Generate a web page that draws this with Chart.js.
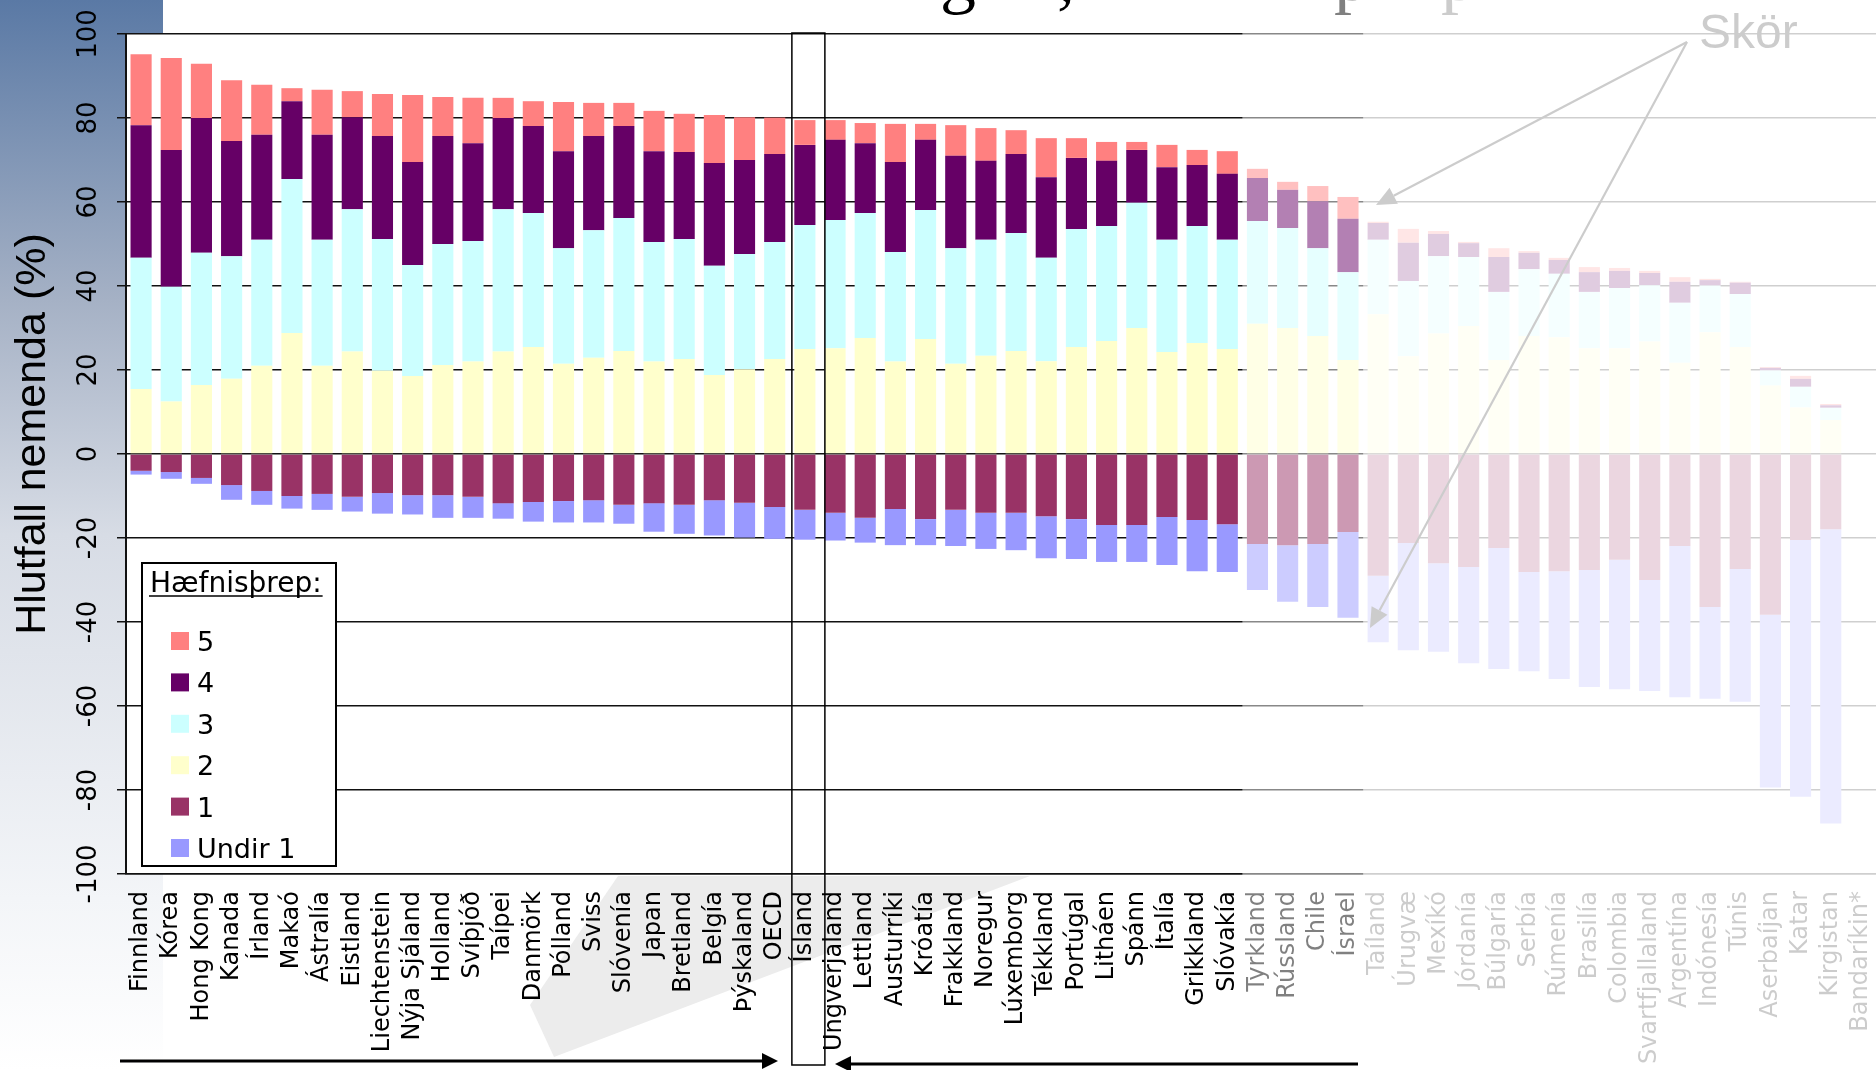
<!DOCTYPE html>
<html>
<head>
<meta charset="utf-8">
<title>Hæfnisþrep</title>
<script src="https://cdn.jsdelivr.net/npm/chart.js@4.4.0/dist/chart.umd.min.js"></script>
<style>
  html, body { margin: 0; padding: 0; background: #fff; overflow: hidden; }
  #wrap { width: 1876px; height: 1070px; position: relative; }
</style>
</head>
<body>
<div id="wrap"><canvas id="chart" width="1876" height="1070"></canvas></div>
<script>
// Countries, ordered as in the chart
const categories = ['Finnland', 'Kórea', 'Hong Kong', 'Kanada', 'Írland', 'Makaó', 'Ástralía', 'Eistland',
    'Liechtenstein', 'Nýja Sjáland', 'Holland', 'Svíþjóð', 'Taípei', 'Danmörk', 'Pólland', 'Sviss',
    'Slóvenía', 'Japan', 'Bretland', 'Belgía', 'Þýskaland', 'OECD', 'Ísland', 'Ungverjaland', 'Lettland',
    'Austurríki', 'Króatía', 'Frakkland', 'Noregur', 'Lúxemborg', 'Tékkland', 'Portúgal', 'Litháen',
    'Spánn', 'Ítalía', 'Grikkland', 'Slóvakía', 'Tyrkland', 'Rússland', 'Chile', 'Ísrael', 'Taíland',
    'Úrugvæ', 'Mexíkó', 'Jórdanía', 'Búlgaría', 'Serbía', 'Rúmenía', 'Brasilía', 'Colombia',
    'Svartfjallaland', 'Argentína', 'Indónesía', 'Túnis', 'Aserbaíjan', 'Katar', 'Kirgistan', 'Bandaríkin*'];

// Share of students (%) on each level; levels 1 and below 1 are shown below zero
const level2 = [15.5, 12.5, 16.4, 17.9, 21.0, 28.8, 21.0, 24.4, 19.8, 18.6, 21.2, 22.0, 24.4, 25.5, 21.5, 22.9,
    24.5, 22.0, 22.6, 18.8, 20.2, 22.6, 25.0, 25.2, 27.6, 22.0, 27.4, 21.5, 23.4, 24.5, 22.1, 25.5, 26.9,
    30.0, 24.3, 26.4, 25.0, 31.0, 30.0, 28.1, 22.4, 33.3, 23.3, 28.7, 30.5, 22.4, 28.1, 27.8, 25.2, 25.2,
    26.8, 21.7, 29.0, 25.5, 16.3, 11.1, 8.1, null];
const level3 = [31.2, 27.3, 31.5, 29.2, 30.0, 36.7, 30.0, 33.9, 31.4, 26.4, 28.8, 28.7, 33.9, 31.9, 27.5, 30.4,
    31.7, 28.5, 28.6, 26.0, 27.4, 27.9, 29.5, 30.5, 29.8, 26.1, 30.7, 27.5, 27.6, 28.1, 24.6, 28.1, 27.4,
    29.8, 26.7, 27.9, 26.0, 24.5, 23.8, 20.9, 20.9, 17.7, 17.9, 18.4, 16.4, 16.2, 15.9, 15.1, 13.4, 14.3,
    13.4, 14.3, 11.1, 12.6, 3.6, 4.9, 2.9, null];
const level4 = [31.6, 32.6, 32.1, 27.4, 25.0, 18.5, 25.0, 21.9, 24.5, 24.5, 25.7, 23.3, 21.7, 20.7, 23.1, 22.4,
    21.9, 21.6, 20.7, 24.5, 22.4, 20.9, 19.1, 19.1, 16.6, 21.4, 16.7, 22.0, 18.8, 18.8, 19.2, 16.9, 15.5,
    12.6, 17.3, 14.5, 15.7, 10.2, 9.1, 11.2, 12.7, 4.0, 9.1, 5.3, 3.3, 8.3, 3.9, 3.3, 4.7, 4.1,
    2.9, 5.0, 1.3, 2.7, 0.6, 1.9, 0.6, null];
const level5 = [16.9, 21.9, 12.9, 14.5, 11.9, 3.1, 10.7, 6.2, 10.0, 16.0, 9.3, 10.8, 4.8, 5.9, 11.7, 7.9,
    5.5, 9.6, 9.1, 11.4, 10.2, 8.7, 5.9, 4.7, 4.8, 9.1, 3.8, 7.3, 7.8, 5.7, 9.3, 4.7, 4.5,
    1.9, 5.3, 3.6, 5.4, 2.2, 1.9, 3.6, 5.2, 0.3, 3.3, 0.7, 0.3, 2.1, 0.4, 0.5, 1.2, 0.7,
    0.5, 1.1, 0.3, 0.2, 0.2, 0.7, 0.3, null];
const level1 = [-4.0, -4.3, -5.7, -7.4, -8.8, -10.0, -9.5, -10.2, -9.3, -9.8, -9.8, -10.2, -11.7, -11.4, -11.2, -11.0,
    -12.1, -11.7, -12.1, -11.0, -11.6, -12.6, -13.3, -14.0, -15.2, -13.1, -15.5, -13.3, -14.0, -14.0, -14.8, -15.5, -16.9,
    -16.9, -15.0, -15.7, -16.7, -21.4, -21.7, -21.4, -18.6, -29.0, -21.2, -26.0, -26.9, -22.4, -28.1, -27.9, -27.6, -25.2,
    -30.0, -21.9, -36.4, -27.4, -38.3, -20.5, -17.9, null];
const under1 = [-0.9, -1.6, -1.4, -3.5, -3.3, -3.0, -3.8, -3.5, -4.9, -4.6, -5.4, -5.0, -3.7, -4.7, -5.1, -5.3,
    -4.5, -6.8, -6.9, -8.4, -8.3, -7.6, -7.1, -6.6, -5.9, -8.6, -6.2, -8.6, -8.6, -8.9, -10.0, -9.5, -8.8,
    -8.8, -11.4, -12.2, -11.4, -11.0, -13.5, -15.0, -20.4, -15.8, -25.5, -21.1, -22.9, -28.8, -23.6, -25.7, -27.9, -30.8,
    -26.4, -36.0, -21.9, -31.6, -41.1, -61.1, -70.1, null];

const yTickValues = [100, 80, 60, 40, 20, 0, -20, -40, -60, -80, -100];
const yTitle = 'Hlutfall nemenda (%)';
const legendTitle = 'Hæfnisþrep:';
const legendLabels = ['5', '4', '3', '2', '1', 'Undir 1'];
const noteText = 'Skör';

const colors = {
    l5: '#ff8080',
    l4: '#660066',
    l3: '#ccffff',
    l2: '#ffffcc',
    l1: '#993366',
    u1: '#9999ff'
};
const legendColors = [colors.l5, colors.l4, colors.l3, colors.l2, colors.l1, colors.u1];

function arrow(ctx, x1, y1, x2, y2, len, half) {
    const a = Math.atan2(y2 - y1, x2 - x1);
    const bx = x2 - len * Math.cos(a), by = y2 - len * Math.sin(a);
    ctx.beginPath();
    ctx.moveTo(x1, y1);
    ctx.lineTo(bx, by);
    ctx.stroke();
    ctx.beginPath();
    ctx.moveTo(x2, y2);
    ctx.lineTo(bx + half * Math.sin(a), by - half * Math.cos(a));
    ctx.lineTo(bx - half * Math.sin(a), by + half * Math.cos(a));
    ctx.closePath();
    ctx.fill();
}

const decorPlugin = {
    id: 'decor',
    beforeDraw(chart) {
        const ctx = chart.ctx, area = chart.chartArea;
        ctx.save();
        ctx.fillStyle = '#fff';
        ctx.fillRect(0, 0, chart.width, chart.height);
        // blue strip on the left
        const grad = ctx.createLinearGradient(0, 0, 0, chart.height);
        grad.addColorStop(0, '#5a79a5');
        grad.addColorStop(0.28, '#a5b1c5');
        grad.addColorStop(0.5, '#d7dce5');
        grad.addColorStop(0.84, '#f3f5f8');
        grad.addColorStop(1, '#ffffff');
        ctx.fillStyle = grad;
        ctx.fillRect(0, 0, 163, chart.height);
        // faint shape behind the country names
        ctx.fillStyle = '#ececec';
        ctx.beginPath();
        ctx.moveTo(618, 876);
        ctx.lineTo(1030, 876);
        ctx.lineTo(554, 1057);
        ctx.lineTo(530, 1005);
        ctx.closePath();
        ctx.fill();
        ctx.fillStyle = '#fff';
        ctx.fillRect(area.left, area.top, area.right - area.left, area.bottom - area.top);
        ctx.restore();
    },
    afterDraw(chart) {
        const ctx = chart.ctx, xs = chart.scales.x, ys = chart.scales.y;
        ctx.save();

        // y tick labels, turned like the axis title
        ctx.fillStyle = '#000';
        ctx.font = '26px "DejaVu Sans"';
        ctx.textAlign = 'center';
        ctx.textBaseline = 'alphabetic';
        yTickValues.forEach(v => {
            ctx.save();
            ctx.translate(96, ys.getPixelForValue(v));
            ctx.rotate(-Math.PI / 2);
            ctx.fillText(String(v), 0, 0);
            ctx.restore();
        });

        ctx.save();
        ctx.translate(45, 434);
        ctx.rotate(-Math.PI / 2);
        ctx.font = '43px "Liberation Sans"';
        ctx.fillText(yTitle, 0, 0);
        ctx.restore();

        // legend box
        ctx.fillStyle = '#fff';
        ctx.fillRect(142, 563, 194, 303);
        ctx.strokeStyle = '#000';
        ctx.lineWidth = 2;
        ctx.strokeRect(142, 563, 194, 303);
        ctx.fillStyle = '#000';
        ctx.textAlign = 'left';
        ctx.font = '28px "DejaVu Sans"';
        ctx.fillText(legendTitle, 150, 592);
        const tw = ctx.measureText(legendTitle).width;
        ctx.lineWidth = 1.5;
        ctx.beginPath();
        ctx.moveTo(149, 596);
        ctx.lineTo(151 + tw, 596);
        ctx.stroke();
        ctx.font = '27px "DejaVu Sans"';
        legendLabels.forEach((lab, i) => {
            const cy = 641 + i * 41.4;
            ctx.fillStyle = legendColors[i];
            ctx.fillRect(171, cy - 9, 18, 18);
            ctx.fillStyle = '#000';
            ctx.fillText(lab, 197, cy + 10);
        });

        // box round Iceland
        const ci = xs.getPixelForValue(22);
        ctx.strokeStyle = '#000';
        ctx.lineWidth = 1.5;
        ctx.strokeRect(ci - 13, 33, 33, 1032);

        // pieces of the title that hang below the top edge
        ctx.font = '72px "Liberation Serif"';
        ctx.textAlign = 'center';
        ctx.fillText('g', 958, 0);
        ctx.fillText(',', 1066, 0);
        ctx.textAlign = 'left';
        ctx.fillText('þ', 1334, 0);
        ctx.fillText('p', 1441, 0);

        // "Skör" note with its two arrows
        ctx.font = '48px "Liberation Sans"';
        ctx.fillText(noteText, 1699, 48);
        ctx.lineWidth = 2.2;
        arrow(ctx, 1687, 42, 1376, 205, 20, 9);
        arrow(ctx, 1687, 42, 1370, 628, 20, 9);

        // fade the countries outside the main group
        const b1 = (xs.getPixelForValue(36) + xs.getPixelForValue(37)) / 2;
        const b2 = (xs.getPixelForValue(40) + xs.getPixelForValue(41)) / 2;
        ctx.fillStyle = 'rgba(255,255,255,0.5)';
        ctx.fillRect(b1, 0, b2 - b1, chart.height);
        ctx.fillStyle = 'rgba(255,255,255,0.8)';
        ctx.fillRect(b2, 0, chart.width - b2, chart.height);

        // arrows under the names
        ctx.fillStyle = '#000';
        ctx.strokeStyle = '#000';
        ctx.lineWidth = 3;
        arrow(ctx, 120, 1061, 778, 1061, 16, 8);
        arrow(ctx, 1358, 1064, 835, 1064, 16, 8);

        ctx.restore();
    }
};

function makeSet(label, data, color) {
    return {
        label: label,
        data: data,
        backgroundColor: color,
        borderWidth: 0,
        barPercentage: 0.7,
        categoryPercentage: 1.0
    };
}

const chart = new Chart(document.getElementById('chart'), {
    type: 'bar',
    data: {
        labels: categories,
        datasets: [
            makeSet('2', level2, colors.l2),
            makeSet('3', level3, colors.l3),
            makeSet('4', level4, colors.l4),
            makeSet('5', level5, colors.l5),
            makeSet('1', level1, colors.l1),
            makeSet('Undir 1', under1, colors.u1)
        ]
    },
    options: {
        responsive: false,
        animation: false,
        devicePixelRatio: 1,
        layout: { padding: { top: 34, left: 0, right: 0, bottom: 0 } },
        plugins: {
            legend: { display: false },
            tooltip: { enabled: false }
        },
        scales: {
            x: {
                stacked: true,
                offset: true,
                grid: { display: false, drawTicks: false },
                border: { display: true, color: '#111', width: 1.5 },
                ticks: {
                    autoSkip: false,
                    minRotation: 90,
                    maxRotation: 90,
                    padding: 17,
                    color: '#000',
                    font: { family: '"DejaVu Sans"', size: 24 }
                },
                afterFit(scale) {
                    scale.height = 196;
                    scale.paddingLeft = 0;
                    scale.paddingRight = 0;
                }
            },
            y: {
                stacked: true,
                min: -100,
                max: 100,
                ticks: { stepSize: 20, display: false },
                grid: { color: '#111', lineWidth: 1.5, drawTicks: true, tickLength: 9 },
                border: { display: true, color: '#111', width: 2 },
                afterFit(scale) {
                    scale.width = 126;
                    scale.paddingTop = 0;
                    scale.paddingBottom = 0;
                }
            }
        }
    },
    plugins: [decorPlugin]
});
</script>
</body>
</html>
